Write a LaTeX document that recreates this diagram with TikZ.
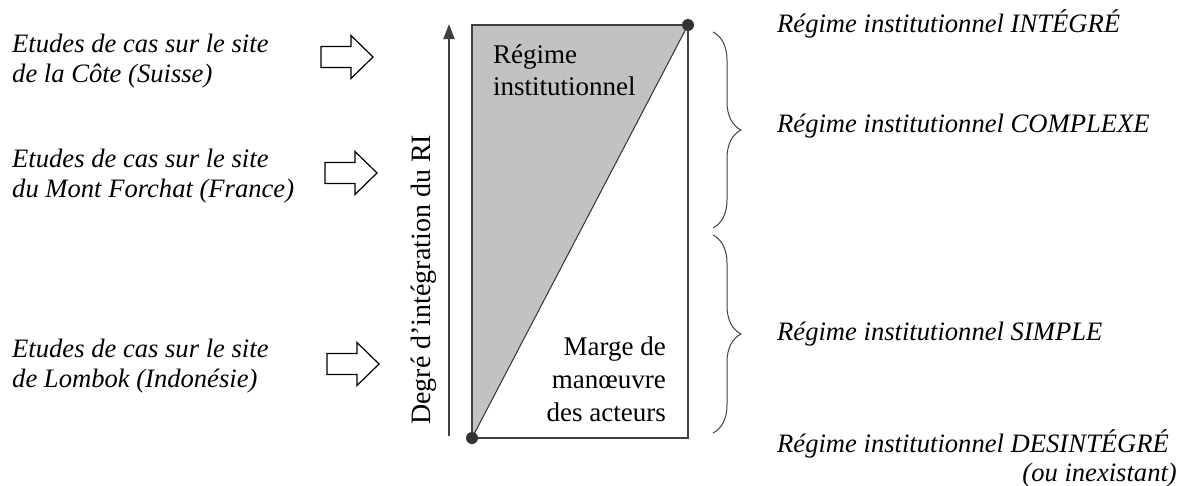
\documentclass[tikz,border=0pt]{standalone}
\usepackage{fontspec}
\setmainfont{Liberation Serif}
\usetikzlibrary{arrows.meta,decorations.pathreplacing}
\begin{document}
\begin{tikzpicture}[x=1pt,y=-1pt,
  txt/.style={inner sep=0pt, anchor=base west, font=\fontsize{26.6}{32}\selectfont\itshape},
  txtr/.style={inner sep=0pt, anchor=base east, font=\fontsize{26.6}{32}\selectfont\itshape},
  boxtxt/.style={inner sep=0pt, font=\fontsize{27}{32}\selectfont},
  edge/.style={draw=black!75, line width=1.1pt},
  bracestyle/.style={draw=black!75, line width=1pt, decorate, decoration={brace, amplitude=28pt, aspect=0.5}},
  barrow/.pic={\draw[line width=1.2pt, fill=white] (0,-10.5) -- (30,-10.5) -- (30,-21.5) -- (52,0) -- (30,21.5) -- (30,10.5) -- (0,10.5) -- cycle;}
]
\useasboundingbox (0,0) rectangle (1184,485);

% box corners
\coordinate (tl) at (472,25);
\coordinate (tr) at (688,25);
\coordinate (bl) at (472,438);
\coordinate (br) at (688,438);

\fill[gray!48] (tl) -- (tr) -- (bl) -- cycle;
\draw[edge] (tl) -- (tr) -- (br) -- (bl) -- cycle;
\draw[draw=black!80, line width=1pt] (bl) -- (tr);
\fill[black!80] (tr) circle (6);
\fill[black!80] (bl) circle (6);

% vertical axis
\coordinate (ax0) at (449,436);
\coordinate (ax1) at (449,24);
\draw[draw=black!75, line width=2pt, -{Triangle[length=15pt,width=11pt]}] (ax0) -- (ax1);
\node[rotate=90, anchor=base west, inner sep=0pt, font=\fontsize{28}{32}\selectfont] (axlab) at (430,425) {Degré d'intégration du RI};

% box texts
\node[boxtxt, anchor=base west] (ri1) at (493,63) {Régime};
\node[boxtxt, anchor=base west] (ri2) at (493,95) {institutionnel};
\node[boxtxt, anchor=base east] (mm1) at (666,355) {Marge de};
\node[boxtxt, anchor=base east] (mm2) at (666,388) {manœuvre};
\node[boxtxt, anchor=base east] (mm3) at (666,421) {des acteurs};

% left texts
\node[txt] (c1a) at (12,52) {Etudes de cas sur le site};
\node[txt] (c1b) at (12,82) {de la Côte (Suisse)};
\node[txt] (c2a) at (12,167) {Etudes de cas sur le site};
\node[txt] (c2b) at (12,197) {du Mont Forchat (France)};
\node[txt] (c3a) at (12,357) {Etudes de cas sur le site};
\node[txt] (c3b) at (12,387) {de Lombok (Indonésie)};

% block arrows
\pic at (321,57) {barrow};
\pic at (325,173) {barrow};
\pic at (327,364) {barrow};

% braces
\coordinate (b1a) at (713,32);
\coordinate (b1b) at (713,228);
\coordinate (b2a) at (713,235);
\coordinate (b2b) at (713,433);
\draw[bracestyle] (b1a) -- (b1b);
\draw[bracestyle] (b2a) -- (b2b);

% right texts
\node[txt] (r1) at (777,32) {Régime institutionnel INTÉGRÉ};
\node[txt] (r2) at (777,132) {Régime institutionnel COMPLEXE};
\node[txt] (r3) at (777,340) {Régime institutionnel SIMPLE};
\node[txt] (r4) at (777,452) {Régime institutionnel DESINTÉGRÉ};
\node[txtr] (r5) at (1177,481) {(ou inexistant)};
\end{tikzpicture}
\end{document}
